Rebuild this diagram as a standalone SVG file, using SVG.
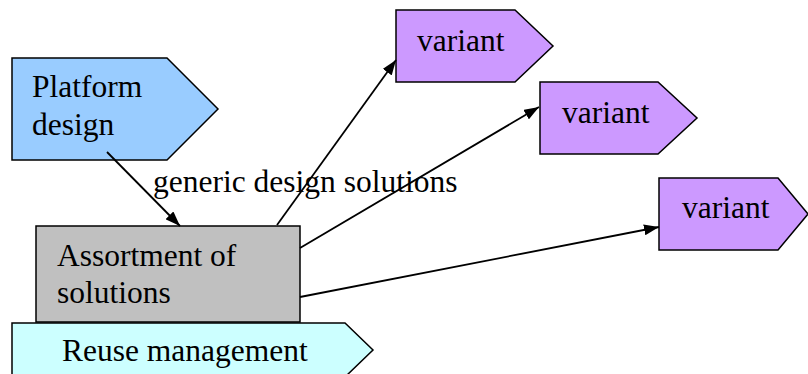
<svg xmlns="http://www.w3.org/2000/svg" width="808" height="374" viewBox="0 0 808 374">
  <defs>
    <marker id="arrow" viewBox="0 0 15 11" refX="15" refY="5.5" markerWidth="15" markerHeight="11" markerUnits="userSpaceOnUse" orient="auto">
      <path d="M0,0 L15,5.5 L0,11 Z" fill="#000"/>
    </marker>
  </defs>
  <style>
    .shape { stroke: #000; stroke-width: 1.5; }
    .label { font-family: "Liberation Serif", "Times New Roman", serif; font-size: 31.5px; fill: #000; }
    .edge { stroke: #000; stroke-width: 1.8; fill: none; marker-end: url(#arrow); }
  </style>
  <rect width="808" height="374" fill="#fff"/>

  <g id="platform-design">
    <polygon class="shape" fill="#99CCFF" points="12,58 167,58 218,109 167,160 12,160"/>
    <text class="label" x="32" y="97">Platform</text>
    <text class="label" x="32" y="135">design</text>
  </g>

  <g id="assortment">
    <rect class="shape" fill="#C0C0C0" x="36" y="226" width="264" height="96"/>
    <text class="label" x="57" y="266">Assortment of</text>
    <text class="label" x="57" y="303">solutions</text>
  </g>

  <g id="reuse-management">
    <polygon class="shape" fill="#CCFFFF" points="12,323 345,323 373,350 345,377 12,377"/>
    <text class="label" x="62" y="361">Reuse management</text>
  </g>

  <g id="variant-1">
    <polygon class="shape" fill="#CC99FF" points="396,10 515,10 553,46 515,82 396,82"/>
    <text class="label" x="417" y="51">variant</text>
  </g>

  <g id="variant-2">
    <polygon class="shape" fill="#CC99FF" points="540,82 658,82 697,118 658,154 540,154"/>
    <text class="label" x="562" y="123">variant</text>
  </g>

  <g id="variant-3">
    <polygon class="shape" fill="#CC99FF" points="659,178 778,178 808,214 778,250 659,250"/>
    <text class="label" x="682" y="218">variant</text>
  </g>

  <g id="edge-label">
    <text class="label" x="153" y="192">generic design solutions</text>
  </g>

  <g id="edges">
    <line class="edge" x1="107" y1="152" x2="180" y2="226"/>
    <line class="edge" x1="277" y1="225" x2="396" y2="60"/>
    <line class="edge" x1="300" y1="248" x2="539" y2="107"/>
    <line class="edge" x1="300" y1="297" x2="659" y2="227"/>
  </g>
</svg>
